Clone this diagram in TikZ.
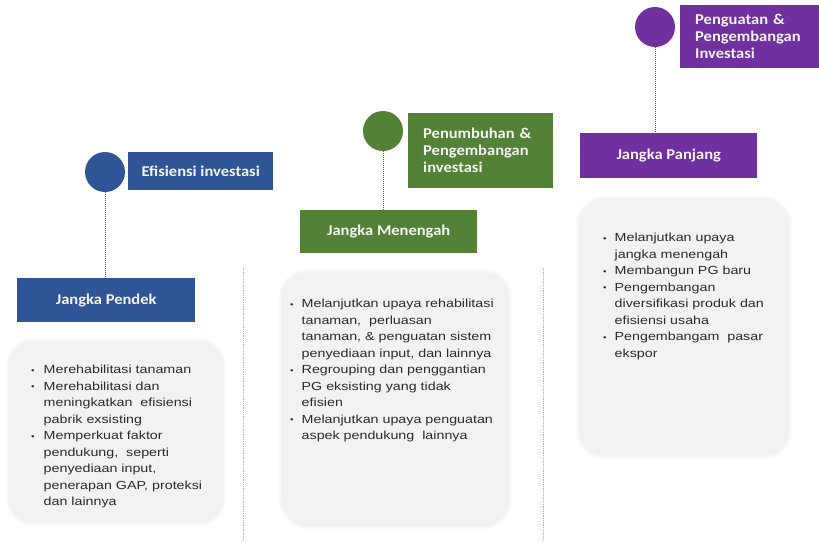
\documentclass[tikz,border=0pt]{standalone}
\usepackage{fontspec}
\setmainfont{Liberation Sans}[FakeStretch=1.22]
\newfontfamily\hdfont{Carlito}[FakeStretch=1.1]
\usetikzlibrary{shadows.blur}
\definecolor{cblue}{HTML}{2F5597}
\definecolor{cgreen}{HTML}{538135}
\definecolor{cpurple}{HTML}{7030A0}
\definecolor{cgray}{HTML}{F2F2F2}
\definecolor{ctext}{HTML}{2B2B2B}
\tikzset{
  dot/.style={circle, minimum size=40pt, inner sep=0pt},
  hbox/.style={rectangle, inner sep=0pt, text=white!92!gray, font=\hdfont\bfseries\fontsize{15}{17}\selectfont},
  hmulti/.style={hbox, inner xsep=15pt, align=left, anchor=north west},
  panel/.style={rounded corners=24pt, fill=cgray, draw=gray!10, line width=0.6pt,
    blur shadow={shadow xshift=0pt, shadow yshift=0pt, shadow blur radius=5pt, shadow opacity=12}},
  conn/.style={gray!70!black, densely dotted, line width=1pt},
  sep/.style={gray!60, densely dotted, line width=0.8pt},
  list/.style={anchor=north west, inner sep=0pt, text=ctext, align=left, font=\fontsize{11.7}{16.5}\selectfont}
}
\newcommand{\bl}{\raisebox{0.5pt}{\scalebox{0.7}{\textbullet}}}
\begin{document}
\begin{tikzpicture}[x=1pt,y=-1pt]
\useasboundingbox (0,0) rectangle (819,541);
% panels
\path[panel] (10,342) rectangle (222,522);
\path[panel] (283,273) rectangle (508,525);
\path[panel] (580,200) rectangle (788,455);
% separators
\coordinate (s1a) at (243,268); \coordinate (s1b) at (243,541);
\coordinate (s2a) at (543,268); \coordinate (s2b) at (543,541);
\draw[sep] (s1a) -- (s1b);
\draw[sep] (s2a) -- (s2b);
% left column
\node[dot, fill=cblue] (c1) at (105,172) {};
\node[hbox, fill=cblue, minimum width=145pt, minimum height=38pt, anchor=north west] (t1) at (128,152) {Efisiensi investasi};
\node[hbox, fill=cblue, minimum width=178pt, minimum height=44pt, anchor=north west] (h1) at (17,278) {Jangka Pendek};
\draw[conn] (c1.south) -- (c1.south |- h1.north);
\node[list] (l1) at (31,362) {\begin{tabular}{@{}l@{\hspace{9pt}}l@{}}
\bl & Merehabilitasi tanaman\\
\bl & Merehabilitasi dan\\
 & meningkatkan \ efisiensi\\
 & pabrik exsisting\\
\bl & Memperkuat faktor\\
 & pendukung, \ seperti\\
 & penyediaan input,\\
 & penerapan GAP, proteksi\\
 & dan lainnya
\end{tabular}};
% middle column
\node[dot, fill=cgreen] (c2) at (383,131) {};
\node[hmulti, fill=cgreen, minimum width=145pt, minimum height=75pt, text width=115pt] (t2) at (408,113) {Penumbuhan \&\\Pengembangan\\investasi};
\node[hbox, fill=cgreen, minimum width=177pt, minimum height=43pt, anchor=north west] (h2) at (300,210) {Jangka Menengah};
\draw[conn] (c2.south) -- (c2.south |- h2.north);
\node[list] (l2) at (290,296) {\begin{tabular}{@{}l@{\hspace{8pt}}l@{}}
\bl & Melanjutkan upaya rehabilitasi\\
 & tanaman, \ perluasan\\
 & tanaman, \& penguatan sistem\\
 & penyediaan input, dan lainnya\\
\bl & Regrouping dan penggantian\\
 & PG eksisting yang tidak\\
 & efisien\\
\bl & Melanjutkan upaya penguatan\\
 & aspek pendukung \ lainnya
\end{tabular}};
% right column
\node[dot, fill=cpurple] (c3) at (655,27) {};
\node[hmulti, fill=cpurple, minimum width=140pt, minimum height=63pt, text width=110pt] (t3) at (680,5) {Penguatan \&\\Pengembangan\\Investasi};
\node[hbox, fill=cpurple, minimum width=177pt, minimum height=45pt, anchor=north west] (h3) at (580,133) {Jangka Panjang};
\draw[conn] (c3.south) -- (c3.south |- h3.north);
\node[list] (l3) at (603,230) {\begin{tabular}{@{}l@{\hspace{8pt}}l@{}}
\bl & Melanjutkan upaya\\
 & jangka menengah\\
\bl & Membangun PG baru\\
\bl & Pengembangan\\
 & diversifikasi produk dan\\
 & efisiensi usaha\\
\bl & Pengembangam \ pasar\\
 & ekspor
\end{tabular}};
\end{tikzpicture}
\end{document}
